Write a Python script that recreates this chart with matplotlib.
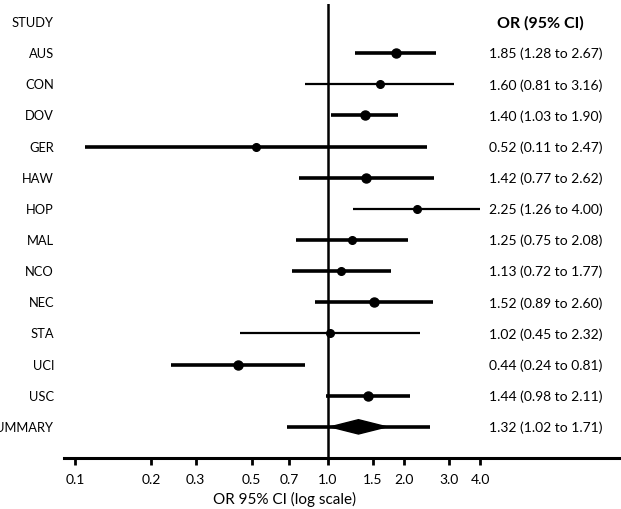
import matplotlib
matplotlib.use("Agg")
import matplotlib.pyplot as plt
import matplotlib.transforms as mtransforms

plt.rcParams['font.family'] = ['Lato', 'DejaVu Sans']

studies = ["AUS", "CON", "DOV", "GER", "HAW", "HOP", "MAL", "NCO", "NEC", "STA", "UCI", "USC"]
odds = [1.85, 1.60, 1.40, 0.52, 1.42, 2.25, 1.25, 1.13, 1.52, 1.02, 0.44, 1.44]
lower = [1.28, 0.81, 1.03, 0.11, 0.77, 1.26, 0.75, 0.72, 0.89, 0.45, 0.24, 0.98]
upper = [2.67, 3.16, 1.90, 2.47, 2.62, 4.00, 2.08, 1.77, 2.60, 2.32, 0.81, 2.11]
thick = [True, False, True, True, True, False, True, True, True, False, True, True]
big_dot = [True, False, True, False, True, False, False, False, True, False, True, True]

summary_or = 1.32
summary_lo = 1.02
summary_hi = 1.71
summary_pi_lo = 0.69
summary_pi_hi = 2.53

ticks = [0.1, 0.2, 0.3, 0.5, 0.7, 1.0, 1.5, 2.0, 3.0, 4.0]
tick_labels = ["0.1", "0.2", "0.3", "0.5", "0.7", "1.0", "1.5", "2.0", "3.0", "4.0"]

W, H = 621, 510
fig = plt.figure(figsize=(W / 100, H / 100), dpi=100)
ax = fig.add_axes([64 / W, (H - 459) / H, 1 - 64 / W, (459 - 5) / H])
ax.set_xscale('log')
ax.set_xlim(0.0905, 14.4)
ax.set_ylim(14.0, -0.578)

for s in ['top', 'right', 'left']:
    ax.spines[s].set_visible(False)
ax.spines['bottom'].set_linewidth(2.2)
ax.set_yticks([])
ax.set_xticks(ticks)
ax.set_xticklabels(tick_labels, fontsize=10)
ax.xaxis.set_minor_locator(matplotlib.ticker.NullLocator())
ax.tick_params(axis='x', direction='out', length=5, width=2, pad=6, color='black')
ax.set_xlabel("OR 95% CI (log scale)", fontsize=11)
ax.xaxis.set_label_coords((285 - 64) / (W - 64), -0.073)

ax.axvline(1.0, color='black', lw=1.8, zorder=1)

for i, (o, lo, hi, tk, bd) in enumerate(zip(odds, lower, upper, thick, big_dot)):
    y = i + 1
    ax.plot([lo, hi], [y, y], color='black', lw=2.6 if tk else 1.6, solid_capstyle='butt', zorder=2)
    ax.plot([o], [y], 'o', color='black', ms=6.5 if bd else 5.5, zorder=3)

ys = len(studies) + 1
ax.plot([summary_pi_lo, summary_pi_hi], [ys, ys], color='black', lw=2.6, solid_capstyle='butt', zorder=2)
h = 0.23
ax.fill([summary_lo, summary_or, summary_hi, summary_or],
        [ys, ys - h, ys, ys + h], color='black', zorder=3)

trans = mtransforms.blended_transform_factory(fig.transFigure, ax.transData)
labels = ["STUDY"] + studies + ["SUMMARY"]
for i, lab in enumerate(labels):
    fig.text(54 / W, i, lab, transform=trans, ha='right', va='center', fontsize=9.3)

fig.text(540 / W, 0, "OR (95% CI)", transform=trans, ha='center', va='center', fontsize=11.5, fontweight='bold')
all_or = odds + [summary_or]
all_lo = lower + [summary_lo]
all_hi = upper + [summary_hi]
for i, (o, lo, hi) in enumerate(zip(all_or, all_lo, all_hi)):
    fig.text(489 / W, i + 1, f"{o:.2f} ({lo:.2f} to {hi:.2f})", transform=trans,
             ha='left', va='center', fontsize=10)

fig.savefig("out.png", dpi=100)
